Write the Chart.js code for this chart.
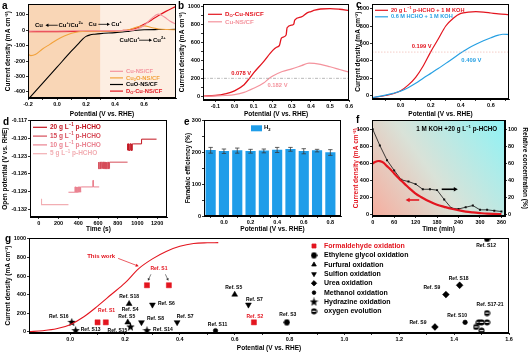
<!DOCTYPE html>
<html><head><meta charset="utf-8"><title>Figure</title>
<script src="https://cdn.jsdelivr.net/npm/chart.js@4/dist/chart.umd.min.js"></script>
<style>
html,body{margin:0;padding:0;background:#fff}
body{width:529px;height:355px;position:relative;overflow:hidden;font-family:"Liberation Sans",Arial,sans-serif}
canvas{position:absolute}
.pl{position:absolute;font-weight:bold;font-size:10px;line-height:10px;color:#000}
</style></head>
<body>
<canvas id="ca"></canvas><canvas id="cb"></canvas><canvas id="cc"></canvas>
<canvas id="cd"></canvas><canvas id="ce"></canvas><canvas id="cf"></canvas><canvas id="cg"></canvas>
<div class="pl" style="left:2px;top:1px">a</div>
<div class="pl" style="left:178px;top:1px">b</div>
<div class="pl" style="left:356px;top:0px">c</div>
<div class="pl" style="left:3px;top:117px">d</div>
<div class="pl" style="left:184px;top:117px">e</div>
<div class="pl" style="left:356px;top:115px">f</div>
<div class="pl" style="left:5px;top:234px">g</div>
<script>
// ================= DATA =================
// (a) LSV curves
const aCuNS_V = [-0.2,-0.1,0,0.1,0.2,0.3,0.4,0.5,0.55,0.6,0.65,0.7,0.74,0.78,0.82];
const aCuNS_J = [-6,-5,-5,-4,-4,-3,-3,-2,6,30,75,104,85,58,40];
const aCu2O_V = [-0.2,-0.18,-0.15,-0.1,-0.05,0,0.05,0.1,0.15,0.2,0.3,0.4,0.45,0.5,0.55,0.6,0.65,0.7,0.76,0.82];
const aCu2O_J = [-155,-165,-158,-122,-92,-62,-38,-20,-10,-6,-6,-5,-3,5,20,28,18,8,4,3];
const aCuO_V = [-0.2,-0.1,0,0.1,0.15,0.18,0.2,0.23,0.26,0.3,0.4,0.45,0.5,0.55,0.6,0.7,0.82];
const aCuO_J = [-450,-345,-240,-135,-85,-55,-40,-30,-26,-22,-16,-12,-6,0,3,4,5];
const aDO_V = [-0.2,0,0.2,0.3,0.4,0.45,0.5,0.55,0.6,0.65,0.7,0.75,0.82];
const aDO_J = [-10,-9,-7,-6,-4,-2,3,15,38,65,95,122,155];
const aShadeSplit = 0.3;
const aXTicks = [-0.2,0,0.2,0.4,0.6];
const aXMinor = [-0.1,0.1,0.3,0.5,0.7];
const aYTicks = [-400,-300,-200,-100,0,100];

// (b)
const bDO_V = [-0.165,-0.1,-0.05,0,0.05,0.078,0.1,0.15,0.2,0.22,0.235,0.245,0.27,0.275,0.3,0.31,0.315,0.35,0.38,0.4,0.42,0.45,0.5,0.55,0.6];
const bDO_J = [2,10,28,62,130,200,260,380,510,545,565,645,680,760,790,800,845,880,925,940,955,968,972,965,952];
const bCu_V = [-0.165,-0.1,-0.05,0,0.05,0.1,0.15,0.182,0.2,0.25,0.3,0.35,0.39,0.45,0.5,0.55,0.6];
const bCu_J = [0,5,10,20,45,90,145,200,225,275,305,340,368,355,328,298,268];
const bRef = 200;
const bXTicks = [-0.1,0,0.1,0.2,0.3,0.4,0.5,0.6];
const bYTicks = [0,200,400,600,800,1000];
const bYMinor = [100,300,500,700,900];

// (c)
const cV = [-0.19,-0.1,-0.05,0,0.05,0.1,0.15,0.199,0.25,0.3,0.35,0.4,0.45,0.5,0.55,0.6,0.65,0.72];
const cPHCHO = [-25,0,20,55,120,210,340,500,650,800,890,945,960,965,960,950,940,930];
const cV2 = [-0.19,-0.1,-0.05,0,0.05,0.1,0.15,0.2,0.25,0.3,0.35,0.409,0.45,0.5,0.55,0.6,0.65,0.68,0.72];
const cHCHO = [-25,5,25,50,90,140,200,255,310,370,430,500,545,590,630,665,695,705,702];
const cRef = 500;
const cXTicks = [0,0.2,0.4,0.6];
const cXMinor = [-0.1,0.1,0.3,0.5,0.7];
const cYTicks = [0,200,400,600,800,1000];

// (d) open-circuit potential vs time
const d5_t  = [27,27,300];
const d5_E  = [-0.1302,-0.1312,-0.1312];
const d10_t = [300,366,366,372,372,378,378,384,384,390,390,396,396,402,402,408,408,414,414,420,420,426,426,432,548,548,553,553,612];
const d10_E = [-0.1291,-0.1291,-0.1282,-0.1282,-0.1291,-0.1291,-0.1282,-0.1282,-0.1291,-0.1291,-0.1282,-0.1282,-0.1291,-0.1291,-0.1282,-0.1282,-0.1291,-0.1291,-0.1282,-0.1282,-0.1291,-0.1291,-0.1282,-0.1282,-0.1282,-0.1271,-0.1271,-0.1282,-0.1282];
const d15_t = [602,602,610,610,618,618,626,626,634,634,642,642,650,650,658,658,666,666,674,674,682,682,690,690,698,698,706,706,714,714,720,900];
const d15_E = [-0.1251,-0.1240,-0.1240,-0.1251,-0.1251,-0.1240,-0.1240,-0.1251,-0.1251,-0.1240,-0.1240,-0.1251,-0.1251,-0.1240,-0.1240,-0.1251,-0.1251,-0.1240,-0.1240,-0.1251,-0.1251,-0.1240,-0.1240,-0.1251,-0.1251,-0.1240,-0.1240,-0.1251,-0.1251,-0.1240,-0.1240,-0.1240];
const d20_t = [900,900,912,912,924,924,936,936,948,948,957,1042,1042,1194];
const d20_E = [-0.1220,-0.1209,-0.1209,-0.1220,-0.1220,-0.1209,-0.1209,-0.1220,-0.1220,-0.1209,-0.1209,-0.1209,-0.1201,-0.1201];
const dXTicks = [0,200,400,600,800,1000,1200];
const dYTicks = [-0.132,-0.129,-0.126,-0.123,-0.120,-0.117];

// (e) Faradaic efficiency of H2
const eV   = [-0.1,0,0.1,0.2,0.3,0.4,0.5,0.6,0.7,0.8];
const eFE  = [206,203,205,203,204,207,209,203,205,199];
const eErr = [9,7,8,6,6,8,6,8,4,9];
const eXTicks = [0,0.2,0.4,0.6,0.8];
const eXMinor = [-0.1,0.1,0.3,0.5,0.7];
const eYTicks = [0,100,200,300];
const eYMinor = [50,150,250];

// (f) stability: current density and relative concentration
const fT_j = [0,5,10,15,20,30,40,50,60,70,80,90,100,110,120,135,150,165,180,200,220,240,260,280,300,320,340,360];
const fJ   = [600,615,625,630,628,610,570,530,485,440,400,360,320,285,250,210,175,145,120,95,72,55,40,30,22,15,12,10];
const fT_c = [0,20,40,60,80,100,120,140,160,180,200,220,240,260,280,300,320,340,360];
const fConc= [100,81,64,52,41,39,36,30,30,29,18,8,7,9,11,6,6,5,4];
const fXTicks = [0,60,120,180,240,300,360];
const fYTicks = [0,200,400,600,800,1000];
const fY2Ticks = [0,20,40,60,80,100];

// (g) comparison
const gWork_V = [-0.15,-0.1,-0.05,0,0.05,0.1,0.15,0.2,0.25,0.3,0.35,0.4,0.45,0.5,0.54];
const gWork_J = [0,10,30,75,160,275,400,525,680,785,865,920,950,958,960];
const gForm_V = [0.1,0.13,0.28,0.36,0.67];      const gForm_J = [100,100,500,500,100];
const gEG_V   = [0.79,1.52];                    const gEG_J   = [100,1000];
const gFur_V  = [0.21,0.215,0.6];               const gFur_J  = [100,300,400];
const gSul_V  = [0.26,0.3,0.39,0.65];           const gSul_J  = [100,290,100,290];
const gUrea_V = [1.33,1.37,1.42];               const gUrea_J = [50,400,500];
const gMeOH_V = [0.53,1.44];                    const gMeOH_J = [10,100];
const gHyd_V  = [0.006,0.02,0.22,0.28];         const gHyd_J  = [100,10,50,10];
const gOER_V  = [1.48,1.49,1.5,1.5,1.52,1.52];  const gOER_J  = [50,100,100,10,100,200];
const gXTicks = [0,0.2,0.4,0.6,0.8,1.0,1.2,1.4,1.6];
const gXMinor = [0.1,0.3,0.5,0.7,0.9,1.1,1.3,1.5];
const gYTicks = [0,200,400,600,800,1000];

// ================= HELPERS =================
const FAM = "'Liberation Sans', Arial, Helvetica, sans-serif";
const TF = 5.5, AF = 6.5;
const RED = '#e3151f', PINK = '#f4939d', ORANGE = '#f2a23c', BLUE = '#27a0e3', BAR = '#1f9de9';
const pts = (xs, ys) => xs.map((x, i) => ({x: x, y: ys[i]}));
const F = (s, w) => ({family: FAM, size: s, weight: w || 'bold'});
const near = (arr, v) => arr.some(m => Math.abs(m - v) < 1e-7);

function axis(pos, min, max, major, minor, fmt, size, title, tpad, tcolor) {
  const horiz = pos === 'bottom';
  return {
    type: 'linear', position: pos, min: min, max: max, offset: false,
    afterBuildTicks: s => { s.ticks = major.concat(minor).map(v => ({value: v})); },
    afterFit: s => { if (horiz) s.height = size; else s.width = size; },
    ticks: {font: F(TF), color: '#000', padding: 1, autoSkip: false, maxRotation: 0, minRotation: 0,
      callback: v => near(major, v) ? fmt(v) : ''},
    grid: {display: true, drawOnChartArea: false, drawTicks: true, tickLength: 2, color: '#000', lineWidth: 0.8},
    border: {display: true, color: '#000', width: 1},
    title: {display: !!title, text: title, font: F(AF), color: tcolor || '#000',
      padding: horiz ? {top: 0, bottom: tpad} : {top: tpad, bottom: 0}}
  };
}
const fx1 = v => (Math.round(v * 10) / 10).toFixed(1);
const fint = v => String(Math.round(v));

function baseOpts(padT, padR, scales) {
  return {responsive: false, animation: false, devicePixelRatio: 1, events: [],
    layout: {padding: {left: 0, top: padT, right: padR, bottom: 0}},
    plugins: {legend: {display: false}, tooltip: {enabled: false}, title: {display: false}},
    scales: scales};
}
function makeChart(id, box, cfg) {
  const cv = document.getElementById(id);
  cv.width = box[2]; cv.height = box[3];
  cv.style.left = box[0] + 'px'; cv.style.top = box[1] + 'px';
  cv.style.width = box[2] + 'px'; cv.style.height = box[3] + 'px';
  return new Chart(cv.getContext('2d'), cfg);
}
function lineDS(data, color, w, extra) {
  return Object.assign({data: data, showLine: true, borderColor: color, backgroundColor: color,
    borderWidth: w || 1.2, pointRadius: 0, tension: 0, fill: false}, extra || {});
}
function rich(g, parts, x, y, size, color, align) {
  let w = 0;
  for (const p of parts) { g.font = 'bold ' + (p[1] ? size * 0.68 : size) + 'px ' + FAM; w += g.measureText(p[0]).width; }
  let cx = align === 'center' ? x - w / 2 : (align === 'right' ? x - w : x);
  g.fillStyle = color; g.textBaseline = 'middle'; g.textAlign = 'left';
  for (const p of parts) {
    const s = p[1] ? size * 0.68 : size;
    g.font = 'bold ' + s + 'px ' + FAM;
    const dy = p[1] === 'sub' ? size * 0.3 : (p[1] === 'sup' ? -size * 0.35 : 0);
    g.fillText(p[0], cx, y + dy);
    cx += g.measureText(p[0]).width;
  }
}
function arrow(g, x1, y1, x2, y2, color, lw, head) {
  const a = Math.atan2(y2 - y1, x2 - x1);
  g.strokeStyle = color; g.fillStyle = color; g.lineWidth = lw;
  g.beginPath(); g.moveTo(x1, y1); g.lineTo(x2 - Math.cos(a) * head * 0.8, y2 - Math.sin(a) * head * 0.8); g.stroke();
  g.beginPath(); g.moveTo(x2, y2);
  g.lineTo(x2 - head * Math.cos(a) + head * 0.55 * Math.sin(a), y2 - head * Math.sin(a) - head * 0.55 * Math.cos(a));
  g.lineTo(x2 - head * Math.cos(a) - head * 0.55 * Math.sin(a), y2 - head * Math.sin(a) + head * 0.55 * Math.cos(a));
  g.closePath(); g.fill();
}
const framePlugin = {id: 'frame', afterDatasetsDraw(c) {
  const a = c.chartArea, g = c.ctx;
  g.save(); g.strokeStyle = '#000'; g.lineWidth = 1;
  g.strokeRect(Math.round(a.left) + 0.5, Math.round(a.top) + 0.5, Math.round(a.right) - Math.round(a.left) - 1, Math.round(a.bottom) - Math.round(a.top) - 1);
  g.restore();
}};
function lineLegend(g, a, items, dx, dy, step, len, size, lw) {
  items.forEach((it, i) => {
    const y = a.top + dy + i * step;
    g.strokeStyle = it.color; g.lineWidth = lw || 1.2;
    g.beginPath(); g.moveTo(a.left + dx, y); g.lineTo(a.left + dx + len, y); g.stroke();
    rich(g, it.parts, a.left + dx + len + 3, y, size, it.color, 'left');
  });
}

// ================= PANEL a =================
makeChart('ca', [0, 0, 180, 119], {
  type: 'scatter',
  data: {datasets: [
    lineDS(pts(aCuNS_V, aCuNS_J), PINK, 1.1, {cubicInterpolationMode: 'monotone'}),
    lineDS(pts(aCu2O_V, aCu2O_J), ORANGE, 1.1, {cubicInterpolationMode: 'monotone'}),
    lineDS(pts(aCuO_V, aCuO_J), '#000', 1.1, {cubicInterpolationMode: 'monotone'}),
    lineDS(pts(aDO_V, aDO_J), RED, 1.2, {cubicInterpolationMode: 'monotone'})
  ]},
  options: baseOpts(4, 4, {
    x: axis('bottom', -0.2, 0.82, aXTicks, aXMinor, fx1, 21, 'Potential (V vs. RHE)', 1),
    y: axis('left', -440, 168, aYTicks, [], fint, 28, 'Current density (mA cm\u207B\u00B2)', 4)
  }),
  plugins: [{id: 'annA',
    beforeDatasetsDraw(c) {
      const a = c.chartArea, g = c.ctx, xb = c.scales.x.getPixelForValue(aShadeSplit);
      g.save(); g.fillStyle = '#f9d6b6'; g.fillRect(a.left, a.top, xb - a.left, a.bottom - a.top);
      g.fillStyle = '#fdeee2'; g.fillRect(xb, a.top, a.right - xb, a.bottom - a.top); g.restore();
    },
    afterDatasetsDraw(c) {
      const g = c.ctx, a = c.chartArea, X = v => c.scales.x.getPixelForValue(v), Y = v => c.scales.y.getPixelForValue(v);
      g.save();
      rich(g, [['Cu']], X(-0.125), Y(32), 6, '#000', 'center');
      arrow(g, X(0.005), Y(32), X(-0.08), Y(32), '#000', 0.8, 3);
      rich(g, [['Cu'], ['+', 'sup'], ['/Cu'], ['2+', 'sup']], X(0.095), Y(32), 6, '#000', 'center');
      rich(g, [['Cu']], X(0.245), Y(38), 6, '#000', 'center');
      arrow(g, X(0.285), Y(38), X(0.365), Y(38), '#000', 0.8, 3);
      rich(g, [['Cu'], ['+', 'sup']], X(0.41), Y(38), 6, '#000', 'center');
      rich(g, [['Cu/Cu'], ['+', 'sup']], X(0.5), Y(-65), 6, '#000', 'center');
      arrow(g, X(0.565), Y(-65), X(0.655), Y(-65), '#000', 0.8, 3);
      rich(g, [['Cu'], ['2+', 'sup']], X(0.705), Y(-65), 6, '#000', 'center');
      lineLegend(g, a, [
        {color: PINK, parts: [['Cu-NS/CF']]},
        {color: ORANGE, parts: [['Cu'], ['2', 'sub'], ['O-NS/CF']]},
        {color: '#000', parts: [['CuO-NS/CF']]},
        {color: RED, parts: [['D'], ['O', 'sub'], ['-Cu-NS/CF']]}
      ], 82, 67, 6.6, 13, 5.8);
      g.restore();
    }}, framePlugin]
});

// ================= PANEL b =================
makeChart('cb', [176, 0, 178, 119], {
  type: 'scatter',
  data: {datasets: [
    lineDS(pts([-0.165, 0.6], [bRef, bRef]), '#9a9a9a', 0.7, {borderDash: [3, 1.5, 1, 1.5]}),
    lineDS(pts(bCu_V, bCu_J), PINK, 1.2, {cubicInterpolationMode: 'monotone'}),
    lineDS(pts(bDO_V, bDO_J), RED, 1.3, {cubicInterpolationMode: 'monotone'})
  ]},
  options: baseOpts(3, 4, {
    x: axis('bottom', -0.165, 0.6, bXTicks, [], fx1, 19, 'Potential (V vs. RHE)', 1),
    y: axis('left', -40, 1020, bYTicks, bYMinor, fint, 27, 'Current density (mA cm\u207B\u00B2)', 2)
  }),
  plugins: [{id: 'annB', afterDatasetsDraw(c) {
    const g = c.ctx, a = c.chartArea, X = v => c.scales.x.getPixelForValue(v), Y = v => c.scales.y.getPixelForValue(v);
    g.save();
    rich(g, [['0.078 V']], X(0.035), Y(255), 5.8, RED, 'center');
    rich(g, [['0.182 V']], X(0.225), Y(120), 5.8, PINK, 'center');
    lineLegend(g, a, [
      {color: RED, parts: [['D'], ['O', 'sub'], ['-Cu-NS/CF']]},
      {color: PINK, parts: [['Cu-NS/CF']]}
    ], 5, 10, 7.5, 14, 6.2);
    g.restore();
  }}, framePlugin]
});

// ================= PANEL c =================
makeChart('cc', [354, 0, 175, 119], {
  type: 'scatter',
  data: {datasets: [
    lineDS(pts([-0.19, 0.72], [cRef, cRef]), '#f1b7b0', 0.7, {borderDash: [1.5, 1.5]}),
    lineDS(pts(cV2, cHCHO), BLUE, 1.2, {cubicInterpolationMode: 'monotone'}),
    lineDS(pts(cV, cPHCHO), RED, 1.2, {cubicInterpolationMode: 'monotone'})
  ]},
  options: baseOpts(4, 20, {
    x: axis('bottom', -0.19, 0.72, cXTicks, cXMinor, fx1, 20, 'Potential (V vs. RHE)', 1),
    y: axis('left', -40, 1050, cYTicks, [], fint, 18, 'Current density (mA cm\u207B\u00B2)', 0)
  }),
  plugins: [{id: 'annC', afterDatasetsDraw(c) {
    const g = c.ctx, a = c.chartArea, X = v => c.scales.x.getPixelForValue(v), Y = v => c.scales.y.getPixelForValue(v);
    g.save();
    rich(g, [['0.199 V']], X(0.14), Y(570), 5.8, RED, 'center');
    rich(g, [['0.409 V']], X(0.47), Y(410), 5.8, BLUE, 'center');
    lineLegend(g, a, [
      {color: RED, parts: [['20 g L'], ['\u22121', 'sup'], [' p-HCHO + 1 M KOH']]},
      {color: BLUE, parts: [['0.6 M HCHO + 1 M KOH']]}
    ], 3, 6, 6.5, 13, 5.6);
    g.restore();
  }}, framePlugin]
});

// ================= PANEL d =================
const D5 = '#f2aeb3', D10 = '#ea8290', D15 = '#d64c59', D20 = '#c2141f';
makeChart('cd', [0, 116, 178, 118], {
  type: 'scatter',
  data: {datasets: [
    lineDS(pts(d5_t, d5_E), D5, 1.1),
    lineDS(pts(d10_t, d10_E), D10, 1),
    lineDS(pts(d15_t, d15_E), D15, 1),
    lineDS(pts(d20_t, d20_E), D20, 1)
  ]},
  options: baseOpts(4, 11, {
    x: axis('bottom', -90, 1300, dXTicks, [], fint, 17, 'Time (s)', 1),
    y: axis('left', -0.1333, -0.1169, dYTicks, [], v => v.toFixed(3), 30, 'Open potential (V vs. RHE)', 1)
  }),
  plugins: [{id: 'annD', afterDatasetsDraw(c) {
    const g = c.ctx, a = c.chartArea;
    g.save();
    lineLegend(g, a, [
      {color: D20, parts: [['20 g L'], ['\u22121', 'sup'], [' p-HCHO']]},
      {color: D15, parts: [['15 g L'], ['\u22121', 'sup'], [' p-HCHO']]},
      {color: D10, parts: [['10 g L'], ['\u22121', 'sup'], [' p-HCHO']]},
      {color: D5, parts: [['5 g L'], ['\u22121', 'sup'], [' p-HCHO']]}
    ], 3, 7, 8.8, 14, 6.5);
    g.restore();
  }}, framePlugin]
});

// ================= PANEL e =================
makeChart('ce', [178, 116, 170, 118], {
  type: 'bar',
  data: {datasets: [{data: pts(eV, eFE), backgroundColor: BAR, borderWidth: 0, barThickness: 9.5}]},
  options: baseOpts(4, 7, {
    x: axis('bottom', -0.15, 0.88, eXTicks, eXMinor, fx1, 18, 'Potential (V vs. RHE)', 1),
    y: axis('left', 0, 300, eYTicks, eYMinor, fint, 26, 'Faradaic efficiency (%)', 6)
  }),
  plugins: [{id: 'annE', afterDatasetsDraw(c) {
    const g = c.ctx, a = c.chartArea, X = v => c.scales.x.getPixelForValue(v), Y = v => c.scales.y.getPixelForValue(v);
    g.save(); g.strokeStyle = '#3a3a3a'; g.lineWidth = 0.8;
    eV.forEach((v, i) => {
      const x = X(v), y1 = Y(eFE[i] + eErr[i]), y2 = Y(eFE[i] - eErr[i]);
      g.beginPath(); g.moveTo(x, y1); g.lineTo(x, y2);
      g.moveTo(x - 2.2, y1); g.lineTo(x + 2.2, y1); g.moveTo(x - 2.2, y2); g.lineTo(x + 2.2, y2); g.stroke();
    });
    g.fillStyle = BAR; g.fillRect(a.left + 47, a.top + 5, 11, 6);
    rich(g, [['H'], ['2', 'sub']], a.left + 60, a.top + 7.5, 6, '#000', 'left');
    g.restore();
  }}, framePlugin]
});

// ================= PANEL f =================
makeChart('cf', [352, 116, 177, 118], {
  type: 'scatter',
  data: {datasets: [
    lineDS(pts(fT_j, fJ), RED, 2.2, {yAxisID: 'y', cubicInterpolationMode: 'monotone'}),
    lineDS(pts(fT_c, fConc), '#111', 0.8, {yAxisID: 'y2', pointRadius: 1.4, pointStyle: 'rect', pointBackgroundColor: '#111', pointBorderColor: '#111', pointBorderWidth: 0})
  ]},
  options: baseOpts(4, 0, {
    x: axis('bottom', -2, 370, fXTicks, [], fint, 18, 'Time (min)', 1),
    y: axis('left', -12, 1105, fYTicks, [], fint, 20, 'Current density (mA cm\u207B\u00B2)', 0, RED),
    y2: axis('right', -1.2, 110.5, fY2Ticks, [], fint, 24, 'Relative concentration (%)', 0)
  }),
  plugins: [{id: 'annF',
    beforeDatasetsDraw(c) {
      const a = c.chartArea, g = c.ctx;
      const gr = g.createLinearGradient(a.left, a.bottom, a.right, a.top);
      gr.addColorStop(0, '#f6ad9e'); gr.addColorStop(0.45, '#d9e2d8'); gr.addColorStop(1, '#8ff3f5');
      g.save(); g.fillStyle = gr; g.fillRect(a.left, a.top, a.right - a.left, a.bottom - a.top); g.restore();
    },
    afterDatasetsDraw(c) {
      const g = c.ctx, X = v => c.scales.x.getPixelForValue(v), Y = v => c.scales.y.getPixelForValue(v), Y2 = v => c.scales.y2.getPixelForValue(v);
      g.save();
      rich(g, [['1 M KOH +20 g L'], ['\u22121', 'sup'], [' p-HCHO']], X(235), Y(1000), 6.3, '#000', 'center');
      arrow(g, X(130), Y(175), X(92), Y(175), RED, 1.6, 4);
      arrow(g, X(193), Y2(30), X(238), Y2(30), '#000', 1.6, 4);
      g.restore();
    }}, framePlugin]
});

// ================= PANEL g =================
function icon(size, draw) { const c = document.createElement('canvas'); c.width = c.height = size; draw(c.getContext('2d'), size / 2); return c; }
const STAR = icon(9, (g, r) => { g.fillStyle = '#000'; g.beginPath();
  for (let i = 0; i < 10; i++) { const rr = i % 2 ? r * 0.42 : r; const an = -Math.PI / 2 + i * Math.PI / 5; g.lineTo(r + rr * Math.cos(an), r + rr * Math.sin(an)); }
  g.closePath(); g.fill(); });
const HEX = icon(7, (g, r) => { g.fillStyle = '#000'; g.beginPath();
  for (let i = 0; i < 6; i++) { const an = i * Math.PI / 3; g.lineTo(r + r * 0.95 * Math.cos(an), r + r * 0.95 * Math.sin(an)); }
  g.closePath(); g.fill(); });
const HALF = icon(7, (g, r) => { g.fillStyle = '#000'; g.beginPath(); g.arc(r, r, r - 0.5, 0, Math.PI * 2); g.fill();
  g.fillStyle = '#fff'; g.fillRect(r - r * 0.55, r - 0.6, r * 1.1, 1.1); });
const mk = (xs, ys, style, color, radius, rot) => ({data: pts(xs, ys), showLine: false, pointStyle: style,
  pointRadius: radius, pointRotation: rot || 0, pointBackgroundColor: color, pointBorderColor: color, pointBorderWidth: 0.5,
  backgroundColor: color, borderColor: color});
const gSeries = [
  ['Formaldehyde oxidation', RED],
  ['Ethylene glycol oxidation', '#000'],
  ['Furfural oxidation', '#000'],
  ['Sulfion oxidation', '#000'],
  ['Urea oxidation', '#000'],
  ['Methanol oxidation', '#000'],
  ['Hydrazine oxidation', '#000'],
  ['oxygen evolution', '#000']
];
const gDS = [
  lineDS(pts(gWork_V, gWork_J), RED, 1.1, {cubicInterpolationMode: 'monotone'}),
  mk(gForm_V, gForm_J, 'rect', RED, 3.6),
  mk(gEG_V, gEG_J, HEX, '#000', 4),
  mk(gFur_V, gFur_J, 'triangle', '#000', 3.4),
  mk(gSul_V, gSul_J, 'triangle', '#000', 3.4, 180),
  mk(gUrea_V, gUrea_J, 'rectRot', '#000', 3.4),
  mk(gMeOH_V, gMeOH_J, 'circle', '#000', 2.3),
  mk(gHyd_V, gHyd_J, STAR, '#000', 4.5),
  mk(gOER_V, gOER_J, HALF, '#000', 4)
];
gSeries.forEach((s, i) => { gDS[i + 1].label = s[0]; });
// reference labels: [text, dataset, point, dx, dy, color]
const gRefLabels = [
  ['Ref. S16', 7, 0, -13, -6, '#000'], ['Ref. S13', 7, 1, 15, -1, '#000'], ['Ref. S1', 1, 0, 9, -12, RED],
  ['Ref. S15', 7, 2, -13, 4, '#000'], ['Ref. S5', 3, 0, -1, -6, '#000'], ['Ref. S18', 3, 1, 0, -7, '#000'],
  ['Ref. S4', 3, 1, 1, 6, '#000'], ['Ref. S6', 4, 1, 14, -1, '#000'], ['Ref. S8', 4, 0, 14, -4, '#000'],
  ['Ref. S14', 7, 3, 16, -1, '#000'], ['Ref. S7', 4, 2, 8, -6, '#000'], ['Ref. S1', 1, 2, 12, -17, RED],
  ['Ref. S11', 6, 0, 2, -6, '#000'], ['Ref. S5', 3, 2, -1, -7, '#000'], ['Ref. S7', 4, 3, 6, -5, '#000'],
  ['Ref. S2', 1, 4, 1, -6, RED], ['Ref. S3', 2, 0, 1, -8, '#000'], ['Ref. S12', 2, 1, -1, 7, '#000'],
  ['Ref. S18', 5, 2, -1, -7, '#000'], ['Ref. S9', 5, 1, -14, -7, '#000'], ['Ref. S17-21', 8, 5, 3, -8, '#000'],
  ['Ref. S10', 6, 1, -8, -7, '#000'], ['Ref. S9', 5, 0, -17, -4, '#000']
];
makeChart('cg', [0, 233, 529, 122], {
  type: 'scatter',
  data: {datasets: gDS},
  options: baseOpts(4, 20, {
    x: axis('bottom', -0.15, 1.6, gXTicks, gXMinor, fx1, 22, 'Potential (V vs. RHE)', 3),
    y: axis('left', -15, 1010, gYTicks, [], fint, 29, 'Current density (mA cm\u207B\u00B2)', 4)
  }),
  plugins: [{id: 'annG', afterDatasetsDraw(c) {
    const g = c.ctx, a = c.chartArea, X = v => c.scales.x.getPixelForValue(v), Y = v => c.scales.y.getPixelForValue(v);
    g.save();
    const P = (d, i) => { const ds = c.data.datasets[d].data[i]; return [X(ds.x), Y(ds.y)]; };
    gRefLabels.forEach(L => { const p = P(L[1], L[2]); rich(g, [[L[0]]], p[0] + L[3], p[1] + L[4], 5, L[5], 'center'); });
    const s2 = P(1, 2), s3 = P(1, 3);
    arrow(g, s2[0] + 4, s2[1] - 11, s2[0] + 1, s2[1] - 4.5, '#333', 0.6, 2.5);
    arrow(g, s3[0] - 3.5, s3[1] - 11, s3[0] - 0.5, s3[1] - 4.5, '#333', 0.6, 2.5);
    rich(g, [['This work']], X(0.113), Y(808), 6, RED, 'center');
    arrow(g, X(0.175), Y(790), X(0.25), Y(705), RED, 0.7, 3);
    gSeries.forEach((s, i) => {
      const ds = gDS[i + 1], x = a.left + 285, y = a.top + 8 + i * 9.33;
      g.fillStyle = s[1]; g.strokeStyle = s[1];
      Chart.helpers.drawPoint(g, {pointStyle: ds.pointStyle, radius: ds.pointRadius * 0.8, rotation: ds.pointRotation, borderWidth: 0.5}, x, y);
      rich(g, [[s[0]]], x + 10, y, 7, s[1], 'left');
    });
    g.restore();
  }}, framePlugin]
});
</script>
</body></html>
